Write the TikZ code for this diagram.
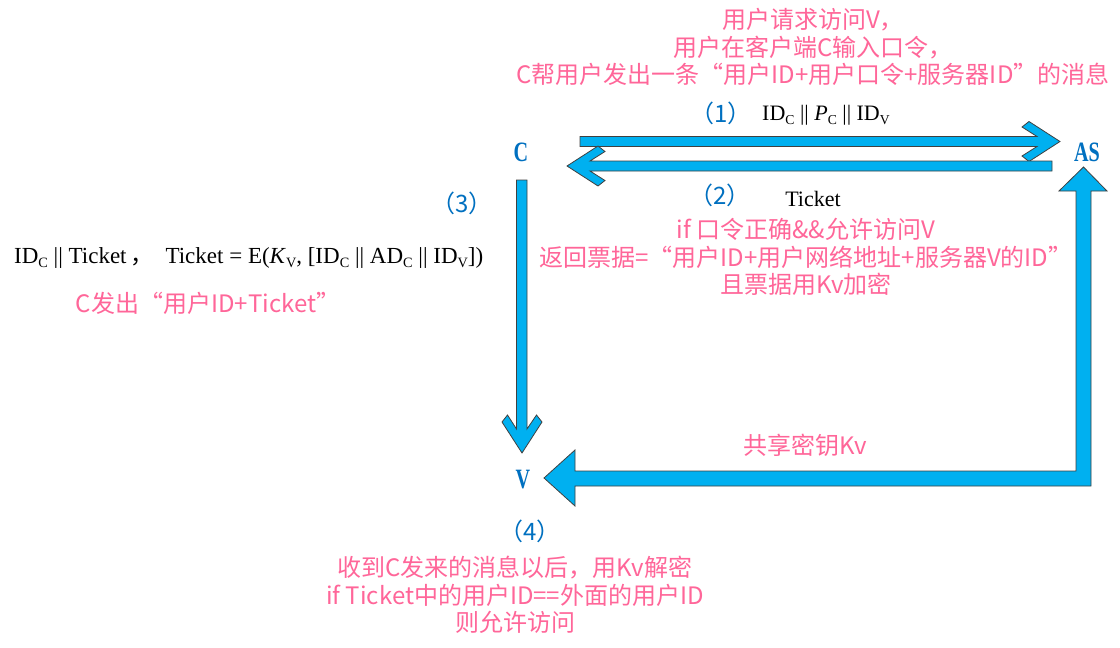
\documentclass[tikz,border=0pt]{standalone}
\usepackage{fontspec}
\setmainfont{Liberation Serif}
\newfontfamily\cjk{Noto Sans CJK SC}
\definecolor{pk}{RGB}{255,102,153}
\definecolor{lb}{RGB}{0,112,192}
\definecolor{af}{RGB}{0,176,240}
\newcommand{\sbs}[1]{\raisebox{-0.45ex}{\scalebox{0.62}{#1}}}
\begin{document}
\begin{tikzpicture}[x=1pt,y=-1pt,
  pinkt/.style={text=pk, font=\cjk\fontsize{24}{27.5}\selectfont, align=center, inner sep=0pt},
  bluet/.style={text=lb, font=\cjk\fontsize{24}{26}\selectfont, inner sep=0pt},
  lab/.style={text=lb, font=\bfseries\fontsize{28}{30}\selectfont, inner sep=0pt},
  frm/.style={text=black, font=\fontsize{22}{26}\selectfont, inner sep=0pt},
  blk/.style={fill=af, draw=black!75, line width=0.8pt, line join=miter}]
\useasboundingbox[fill=white] (0,0) rectangle (1120,648);

% block arrows
\draw[blk] (580,136.5) -- (1037,136.5) -- (1022,127) -- (1029,121.5) -- (1060,141.5)
  -- (1029,161.5) -- (1022,156) -- (1037,146.5) -- (580,146.5) -- cycle;
\draw[blk] (1052,161) -- (590,161) -- (605,151.5) -- (598,146) -- (567,166)
  -- (598,186) -- (605,180.5) -- (590,171) -- (1052,171) -- cycle;
\draw[blk] (516.5,180) -- (527,180) -- (527,429) -- (536.5,415) -- (542,422) -- (522,453)
  -- (502,422) -- (507.5,415) -- (516.5,429) -- cycle;
\draw[blk] (575,450) -- (544,478) -- (575,506) -- (575,486) -- (1091,486) -- (1091,191)
  -- (1107,191) -- (1083.5,167) -- (1059,191) -- (1076,191) -- (1076,471) -- (575,471) -- cycle;

% labels
\node[lab] (C) at (521,152) {\scalebox{0.72}[1]{C}};
\node[lab] (AS) at (1087,152) {\scalebox{0.72}[1]{AS}};
\node[lab] (V) at (523,480) {\scalebox{0.72}[1]{V}};

% texts
\node[pinkt] (t1) at (813,47) {用户请求访问V，\\用户在客户端C输入口令，\\C帮用户发出一条“用户ID+用户口令+服务器ID”的消息};
\node[bluet] (n1) at (721,113) {（1）};
\node[frm, anchor=base west] (f1) at (762,120) {ID\sbs{C} || \textit{P}\sbs{C} || ID\sbs{V}};
\node[bluet] (n2) at (720,195) {（2）};
\node[frm] (tk) at (813,199) {Ticket};
\node[pinkt] (t2) at (806,257) {if 口令正确\&\&允许访问V\\返回票据=“用户ID+用户网络地址+服务器V的ID”\\且票据用Kv加密};
\node[bluet] (n3) at (462,203) {（3）};
\node[frm, font=\fontsize{23}{28}\selectfont, anchor=base west] (f2) at (14,263)
  {ID\sbs{C} || Ticket\,{\cjk ，}\; Ticket = E(\textit{K}\sbs{V}, [ID\sbs{C} || AD\sbs{C} || ID\sbs{V}])};
\node[pinkt] (t3) at (208,303) {C发出“用户ID+Ticket”};
\node[pinkt] (t4) at (805,445) {共享密钥Kv};
\node[bluet] (n4) at (530,531) {（4）};
\node[pinkt] (t5) at (515,595) {收到C发来的消息以后，用Kv解密\\if Ticket中的用户ID==外面的用户ID\\则允许访问};
\end{tikzpicture}
\end{document}
